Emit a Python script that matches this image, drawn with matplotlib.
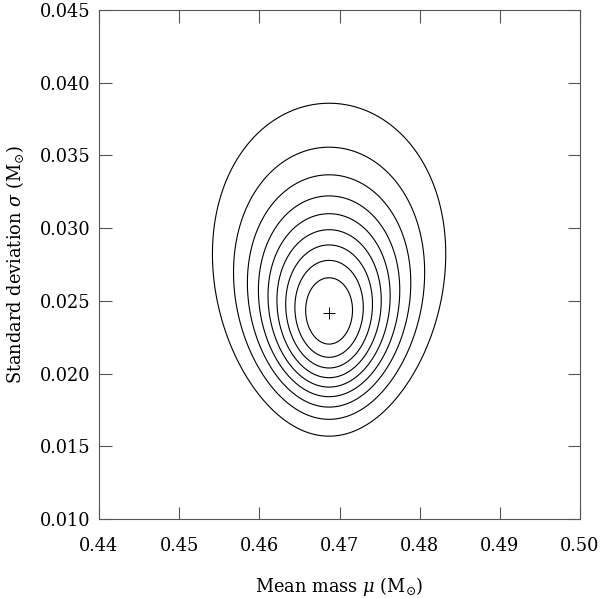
import numpy as np
import matplotlib.pyplot as plt

# best fit of the Gaussian mass distribution (the + marker)
mu_best = 0.4687
sigma_best = 0.02418
# typical mass error of one star and the number of stars in the sample
mass_err = 0.0113
n_stars = 17.7
# contours drawn at these likelihood ratios L / L_max
ratio_levels = [0.1, 0.2, 0.3, 0.4, 0.5, 0.6, 0.7, 0.8, 0.9]

x_ticks = [0.44, 0.45, 0.46, 0.47, 0.48, 0.49, 0.50]
y_ticks = [0.010, 0.015, 0.020, 0.025, 0.030, 0.035, 0.040, 0.045]

plt.rcParams['font.family'] = ['DejaVu Serif']
plt.rcParams['mathtext.fontset'] = 'dejavuserif'

# likelihood surface on a grid
mu = np.linspace(0.44, 0.50, 600)
sig = np.linspace(0.010, 0.045, 600)
M, S = np.meshgrid(mu, sig)
s2 = sigma_best**2 + mass_err**2
v = S**2 + mass_err**2
lnl = -0.5 * n_stars * np.log(v) - n_stars * (s2 + (M - mu_best)**2) / (2 * v)
lnl_max = -0.5 * n_stars * np.log(s2) - 0.5 * n_stars
ratio = np.exp(lnl - lnl_max)

fig = plt.figure(figsize=(6.0, 5.98), dpi=100)
ax = fig.add_axes([0.165, 0.1321, 0.8017, 0.8512])

ax.contour(M, S, ratio, levels=ratio_levels, colors='black', linewidths=0.8)
ax.plot([mu_best], [sigma_best], marker='+', color='black', markersize=8, markeredgewidth=0.7)

ax.set_xlim(0.44, 0.50)
ax.set_ylim(0.010, 0.045)
ax.set_xticks(x_ticks)
ax.set_yticks(y_ticks)
ax.set_xticklabels(['%.2f' % t for t in x_ticks])
ax.set_yticklabels(['%.3f' % t for t in y_ticks])

for sp in ax.spines.values():
    sp.set_color('#555555')
    sp.set_linewidth(0.8)
ax.tick_params(direction='in', length=9, width=0.8, color='#555555',
               top=True, right=True, labelsize=12.8)
ax.tick_params(axis='x', pad=13)
ax.tick_params(axis='y', pad=6)

ax.set_xlabel(r'Mean mass $\mu$ (M$_{\odot}$)', fontsize=12.8, labelpad=14)
ax.set_ylabel(r'Standard deviation $\sigma$ (M$_{\odot}$)', fontsize=12.8, labelpad=10)

fig.savefig('out.png', dpi=100)
plt.close(fig)
